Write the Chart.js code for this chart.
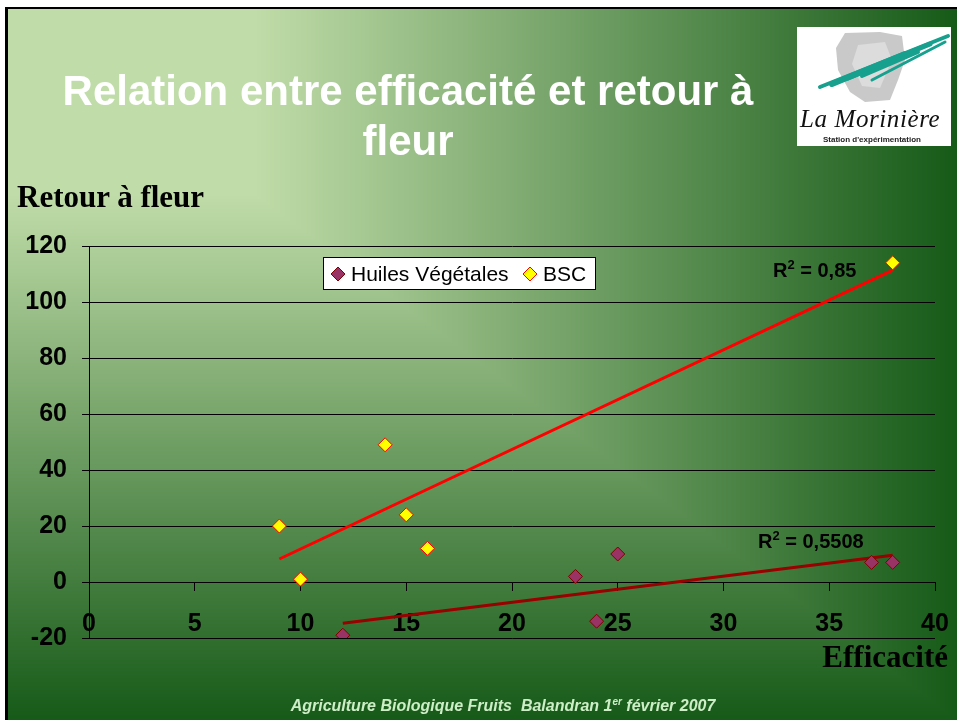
<!DOCTYPE html>
<html>
<head>
<meta charset="utf-8">
<script src="https://cdn.jsdelivr.net/npm/chart.js@4.4.1/dist/chart.umd.min.js"></script>
<style>
  body { margin: 0; width: 957px; height: 720px; overflow: hidden; background: #fff; position: relative; font-family: Arial, "Liberation Sans", sans-serif; }
  canvas { position: absolute; left: 0; top: 0; }
  .t { position: absolute; white-space: nowrap; }
  #title { left: 0; width: 816px; top: 66px; text-align: center; color: #fff; font: bold 42px Arial, "Liberation Sans", sans-serif; line-height: 50px; }
  #ytitle { left: 17px; top: 181px; font: bold 31px "Liberation Serif", "Times New Roman", serif; line-height: 31px; color: #000; }
  #xtitle { right: 9px; top: 641px; font: bold 31px "Liberation Serif", "Times New Roman", serif; line-height: 31px; color: #000; }
  #footer { left: 0; width: 1006px; top: 693px; text-align: center; font: italic bold 16px Arial, "Liberation Sans", sans-serif; color: #cdeec6; line-height: 18px; }
  #footer sup { font-size: 10px; }
  #logoName { left: 800px; top: 106px; font: italic 25px "Liberation Serif", serif; color: #111; line-height: 26px; letter-spacing: 0.6px; }
  #logoSub { left: 823px; top: 135px; font: bold 8px Arial, sans-serif; color: #222; line-height: 9px; }
</style>
</head>
<body>
<canvas id="bg" width="957" height="720"></canvas>
<canvas id="chart" width="957" height="720"></canvas>
<div class="t" id="title">Relation entre efficacité et retour à<br>fleur</div>
<div class="t" id="ytitle">Retour à fleur</div>
<div class="t" id="xtitle">Efficacité</div>
<div class="t" id="logoName">La Morinière</div>
<div class="t" id="logoSub">Station d'expérimentation</div>
<div class="t" id="footer">Agriculture Biologique Fruits&nbsp; Balandran 1<sup>er</sup> février 2007</div>
<script>
// values
const seriesNames = ["Huiles Végétales", "BSC"];
const huilesX = [12, 23, 24, 25, 37, 38];
const huilesY = [-19, 2, -14, 10, 7, 7];
const bscX = [9, 10, 14, 15, 16, 38];
const bscY = [20, 1, 49, 24, 12, 114];
const r2Labels = ["0,5508", "0,85"];
const xTickStep = 5;
const yTickStep = 20;

// slide background
const bg = document.getElementById("bg").getContext("2d");
(function drawBackground() {
  const W = 957, H = 720;
  const img = bg.createImageData(W, H);
  const light = [192, 220, 168], dark = [22, 90, 24];
  for (let y = 0; y < H; y++) {
    for (let x = 0; x < W; x++) {
      const i = (y * W + x) * 4;
      let c = [255, 255, 255];
      if (x >= 8 && y >= 9) {
        const t = Math.max((x - 8) / 949, (y - 9) / 711);
        const f = Math.min(1, Math.max(0, (t - 0.26) / 0.74));
        c = light.map((v, k) => v + (dark[k] - v) * f);
      }
      img.data[i] = c[0]; img.data[i + 1] = c[1]; img.data[i + 2] = c[2]; img.data[i + 3] = 255;
    }
  }
  bg.putImageData(img, 0, 0);
  bg.fillStyle = "#000";
  bg.fillRect(5, 7, 952, 2);
  bg.fillRect(5, 7, 3, 713);

  // logo
  bg.fillStyle = "#fff";
  bg.fillRect(797, 27, 154, 119);
  bg.fillStyle = "#c9c9c9";
  bg.beginPath();
  bg.moveTo(845, 33); bg.lineTo(880, 32); bg.lineTo(902, 36); bg.lineTo(905, 60);
  bg.lineTo(898, 80); bg.lineTo(890, 100); bg.lineTo(865, 102); bg.lineTo(850, 92);
  bg.lineTo(838, 70); bg.lineTo(836, 48); bg.closePath(); bg.fill();
  bg.fillStyle = "#dcdcdc";
  bg.beginPath();
  bg.moveTo(858, 45); bg.lineTo(885, 42); bg.lineTo(892, 60); bg.lineTo(880, 88);
  bg.lineTo(862, 86); bg.lineTo(852, 64); bg.closePath(); bg.fill();
  bg.strokeStyle = "#17a08e";
  bg.lineCap = "round";
  const streak = (x0, y0, x1, y1, w) => { bg.lineWidth = w; bg.beginPath(); bg.moveTo(x0, y0); bg.lineTo(x1, y1); bg.stroke(); };
  streak(820, 87, 948, 36, 4);
  streak(832, 84, 905, 54, 6);
  streak(848, 78, 930, 44, 5);
  streak(862, 76, 918, 52, 4);
  streak(872, 80, 945, 42, 3);
})();

function fit(xs, ys) {
  const n = xs.length;
  const mx = xs.reduce((a, b) => a + b, 0) / n;
  const my = ys.reduce((a, b) => a + b, 0) / n;
  let sxy = 0, sxx = 0;
  xs.forEach((x, i) => { sxy += (x - mx) * (ys[i] - my); sxx += (x - mx) * (x - mx); });
  const slope = sxy / sxx, b = my - slope * mx;
  const x0 = Math.min(...xs), x1 = Math.max(...xs);
  return [{ x: x0, y: slope * x0 + b }, { x: x1, y: slope * x1 + b }];
}

const pts = (xs, ys) => xs.map((x, i) => ({ x: x, y: ys[i] }));

const COLORS = {
  hFill: "#993366", hBorder: "#800000", hLine: "#990000",
  bFill: "#ffff00", bBorder: "#ff0000", bLine: "#ff0000"
};

function diamond(ctx, cx, cy, r, fill, stroke) {
  ctx.beginPath();
  ctx.moveTo(cx, cy - r); ctx.lineTo(cx + r, cy); ctx.lineTo(cx, cy + r); ctx.lineTo(cx - r, cy);
  ctx.closePath();
  ctx.fillStyle = fill; ctx.fill();
  ctx.lineWidth = 1; ctx.strokeStyle = stroke; ctx.stroke();
}

function drawR2(ctx, x, base, val) {
  ctx.fillStyle = "#000";
  ctx.textBaseline = "alphabetic";
  ctx.textAlign = "left";
  ctx.font = "bold 20px Arial";
  ctx.fillText("R", x, base);
  let w = ctx.measureText("R").width;
  ctx.font = "bold 13px Arial";
  ctx.fillText("2", x + w, base - 8);
  w += ctx.measureText("2").width;
  ctx.font = "bold 20px Arial";
  ctx.fillText(" = " + val, x + w, base);
}

const overlay = {
  id: "overlay",
  afterDraw(chart) {
    const ctx = chart.ctx;
    ctx.save();
    // legend
    ctx.fillStyle = "#fff";
    ctx.fillRect(323.5, 257.5, 272, 32);
    ctx.strokeStyle = "#000"; ctx.lineWidth = 1;
    ctx.strokeRect(323.5, 257.5, 272, 32);
    diamond(ctx, 338, 274, 7, COLORS.hFill, COLORS.hBorder);
    diamond(ctx, 530, 274, 7, COLORS.bFill, COLORS.bBorder);
    ctx.fillStyle = "#000";
    ctx.font = "21px Arial";
    ctx.textBaseline = "middle";
    ctx.fillText(seriesNames[0], 351, 275);
    ctx.fillText(seriesNames[1], 543, 275);
    // R² labels
    drawR2(ctx, 773, 277, r2Labels[1]);
    drawR2(ctx, 758, 548, r2Labels[0]);
    ctx.restore();
  }
};

const tickFont = { family: "Arial", size: 25, weight: "bold" };

new Chart(document.getElementById("chart"), {
  type: "scatter",
  data: {
    datasets: [
      {
        label: seriesNames[0], data: pts(huilesX, huilesY),
        pointStyle: "rectRot", pointRadius: 7, pointBackgroundColor: COLORS.hFill,
        pointBorderColor: COLORS.hBorder, pointBorderWidth: 1
      },
      {
        label: seriesNames[1], data: pts(bscX, bscY),
        pointStyle: "rectRot", pointRadius: 7, pointBackgroundColor: COLORS.bFill,
        pointBorderColor: COLORS.bBorder, pointBorderWidth: 1
      },
      {
        label: "trend1", type: "line", data: fit(huilesX, huilesY),
        borderColor: COLORS.hLine, borderWidth: 3, pointRadius: 0, fill: false
      },
      {
        label: "trend2", type: "line", data: fit(bscX, bscY),
        borderColor: COLORS.bLine, borderWidth: 3, pointRadius: 0, fill: false
      }
    ]
  },
  options: {
    responsive: false,
    animation: false,
    devicePixelRatio: 1,
    layout: { padding: { left: 0, top: 246, right: 22, bottom: 82 } },
    plugins: { legend: { display: false }, tooltip: { enabled: false } },
    scales: {
      x: {
        type: "linear", min: 0, max: 40, position: { y: 0 },
        ticks: { stepSize: xTickStep, color: "#000", font: tickFont, padding: 19, maxRotation: 0, autoSkip: false },
        grid: { drawOnChartArea: false, drawTicks: true, tickLength: 8, color: "#000" },
        border: { display: true, color: "#000", width: 1 },
        afterFit(s) { s.paddingRight = 0; s.paddingLeft = 0; }
      },
      y: {
        type: "linear", min: -20, max: 120,
        ticks: { stepSize: yTickStep, color: "#000", font: tickFont, padding: 15 },
        grid: { color: "#000", lineWidth: 1, tickLength: 7 },
        border: { display: true, color: "#000", width: 1 },
        afterFit(s) { s.width = 89; }
      }
    }
  },
  plugins: [overlay]
});
</script>
</body>
</html>
